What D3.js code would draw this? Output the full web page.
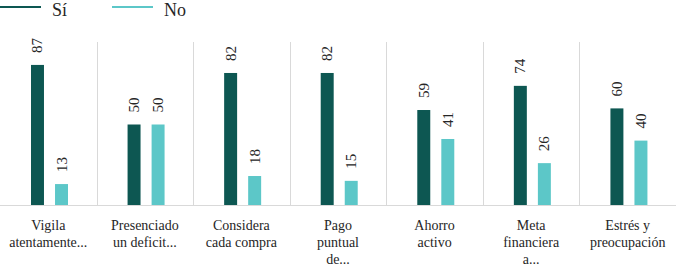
<!DOCTYPE html>
<html>
<head>
<meta charset="utf-8">
<script src="https://cdn.jsdelivr.net/npm/d3@7"></script>
<style>
  body { margin: 0; background: #fff; }
  #chart { width: 676px; height: 268px; }
</style>
</head>
<body>
<div id="chart"></div>
<script>
const categories = [
  ["Vigila", "atentamente..."],
  ["Presenciado", "un deficit..."],
  ["Considera", "cada compra"],
  ["Pago", "puntual", "de..."],
  ["Ahorro", "activo"],
  ["Meta", "financiera", "a..."],
  ["Estrés y", "preocupación"]
];
const seriesNames = ["Sí", "No"];
const siValues = [87, 50, 82, 82, 59, 74, 60];
const noValues = [13, 50, 18, 15, 41, 26, 40];
const colors = ["#0d5752", "#5cc7c8"];

const width = 676, height = 268;
const margin = { top: 44, right: 0, bottom: 63, left: 0 };
const plotH = height - margin.top - margin.bottom;

const svg = d3.select("#chart").append("svg")
  .attr("width", width).attr("height", height)
  .style("font-family", "'Liberation Serif', 'Times New Roman', serif");

const x = d3.scaleBand()
  .domain(d3.range(categories.length))
  .range([0, width])
  .padding(0);

// bars inside one category: Sí at 31..44, No at 55..68
const x1 = d3.scaleBand()
  .domain(seriesNames)
  .range([31, 68])
  .paddingInner(0.46);

const y = d3.scaleLinear().domain([0, 100]).range([margin.top + plotH, margin.top]);

// category separators
svg.append("g").selectAll("line")
  .data(d3.range(1, categories.length))
  .enter().append("line")
  .attr("x1", d => Math.round(x(d)) + 0.5)
  .attr("x2", d => Math.round(x(d)) + 0.5)
  .attr("y1", y(100) - 2)
  .attr("y2", y(0))
  .attr("stroke", "#d9d9d9");

// baseline
svg.append("line")
  .attr("x1", 0).attr("x2", width)
  .attr("y1", y(0) + 0.5).attr("y2", y(0) + 0.5)
  .attr("stroke", "#d9d9d9");

const data = categories.map((c, i) => ({ i, vals: [siValues[i], noValues[i]] }));

const groups = svg.append("g").selectAll("g")
  .data(data)
  .enter().append("g")
  .attr("transform", d => `translate(${x(d.i)},0)`);

// bars
groups.selectAll("rect")
  .data(d => d.vals.map((v, k) => ({ name: seriesNames[k], v, k })))
  .enter().append("rect")
  .attr("x", d => x1(d.name))
  .attr("y", d => y(d.v))
  .attr("width", x1.bandwidth())
  .attr("height", d => y(0) - y(d.v))
  .attr("fill", d => colors[d.k]);

// value labels (rotated)
groups.selectAll("text.val")
  .data(d => d.vals.map((v, k) => ({ name: seriesNames[k], v, k })))
  .enter().append("text")
  .attr("class", "val")
  .attr("transform", d => `translate(${x1(d.name) + x1.bandwidth() / 2 + 5},${y(d.v) - 12}) rotate(-90)`)
  .attr("text-anchor", "start")
  .style("font-size", "15px")
  .attr("fill", "#262626")
  .text(d => d.v);

// category labels
groups.append("text")
  .attr("x", x.bandwidth() / 2)
  .attr("y", 230)
  .attr("text-anchor", "middle")
  .style("font-size", "14px")
  .attr("fill", "#262626")
  .selectAll("tspan")
  .data(d => categories[d.i])
  .enter().append("tspan")
  .attr("x", x.bandwidth() / 2)
  .attr("dy", (d, j) => j === 0 ? 0 : 17)
  .text(d => d);

// legend
const legend = svg.append("g");
const legendX = [0, 112];
seriesNames.forEach((s, k) => {
  legend.append("line")
    .attr("x1", legendX[k]).attr("x2", legendX[k] + 41)
    .attr("y1", 7).attr("y2", 7)
    .attr("stroke", colors[k]).attr("stroke-width", 2);
  legend.append("text")
    .attr("x", legendX[k] + 52).attr("y", 16)
    .style("font-size", "18px")
    .attr("fill", "#262626")
    .text(s);
});
</script>
</body>
</html>
